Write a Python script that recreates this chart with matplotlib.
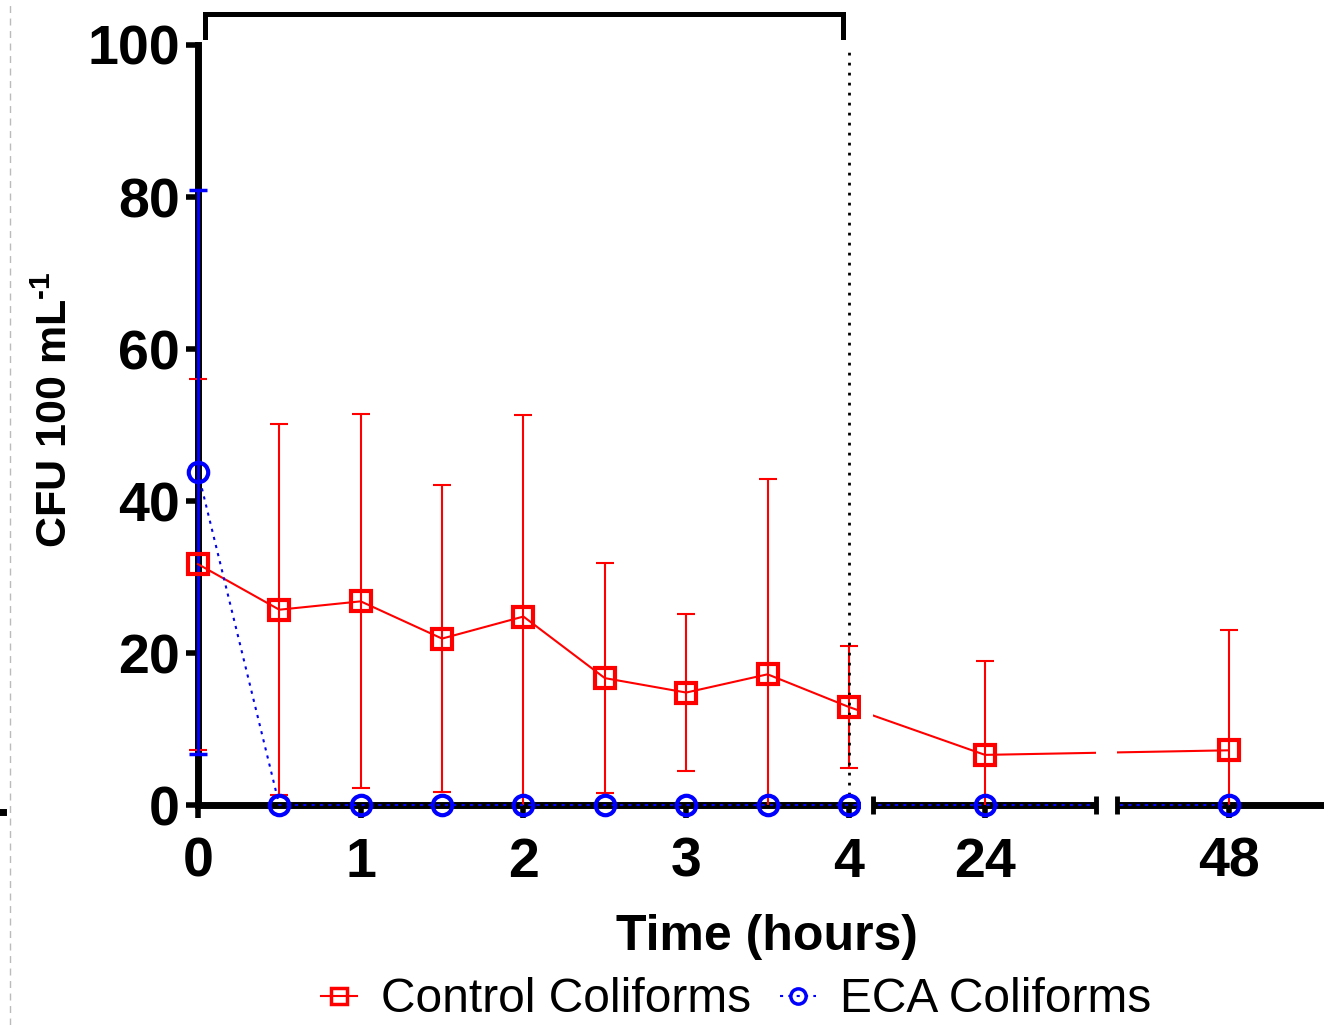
import numpy as np
import matplotlib
matplotlib.use("Agg")
import matplotlib.pyplot as plt
from matplotlib.lines import Line2D
from matplotlib.transforms import Bbox, TransformedBbox

plt.rcParams["font.family"] = ["Liberation Sans", "DejaVu Sans"]
plt.rcParams["mathtext.default"] = "regular"

# coliform counts, CFU 100 mL^-1 (mean ± SD)
time_h = [0, 0.5, 1, 1.5, 2, 2.5, 3, 3.5, 4, 24, 48]
control_mean = [31.7, 25.7, 26.8, 21.9, 24.8, 16.7, 14.8, 17.2, 12.9, 6.6, 7.2]
control_sd = [24.4, 24.4, 24.6, 20.2, 26.5, 15.1, 10.3, 25.7, 8.0, 12.4, 15.8]
eca_mean = [43.8, 0, 0, 0, 0, 0, 0, 0, 0, 0, 0]
eca_sd = [37.1, 0, 0, 0, 0, 0, 0, 0, 0, 0, 0]
xticks = [0, 1, 2, 3, 4, 24, 48]
yticks = [0, 20, 40, 60, 80, 100]

# broken x axis: 0-4 h at full scale, 24 h and 48 h squeezed in after it
knots_h = [-100, 0, 4, 24, 48, 1000]
knots_p = [-100, 0, 4, 4.836, 6.335, 6.335 + 952 / 16]
fwd = lambda x: np.interp(x, knots_h, knots_p)
inv = lambda p: np.interp(p, knots_p, knots_h)
SEG1_END, SEG2 = 4.074, (4.147, 5.518)
SEG3_START, XMAX = 5.647, 6.919

fig = plt.figure(figsize=(13.24, 10.25), dpi=100)
ax = fig.add_axes([0.1495, 0.2146, 1 - 0.1495, 0.7415])
ax.set_xscale("function", functions=(fwd, inv))
ax.set_xlim(0, inv(XMAX))
ax.set_ylim(0, 100)

for s in ("top", "right", "bottom"):
    ax.spines[s].set_visible(False)
ax.spines["left"].set_linewidth(5)
ax.spines["left"].set_bounds(0, 100)

# x axis drawn as three pieces with small end bars at the breaks
for a, b in [(0, SEG1_END), SEG2, (SEG3_START, XMAX + 0.2)]:
    ax.plot([inv(a), inv(b)], [0, 0], color="black", lw=5, solid_capstyle="butt",
            clip_on=False, zorder=2.5)
for p in (SEG2[0], SEG2[1], SEG3_START):
    ax.plot([inv(p), inv(p)], [-1.2, 1.2], color="black", lw=3.5, solid_capstyle="butt",
            clip_on=False, zorder=6)

clip = TransformedBbox(Bbox([[-0.05, 0], [1.0, 1.2]]), ax.transAxes)
eb = ax.errorbar(time_h, control_mean, yerr=control_sd, fmt="none", ecolor="red",
                 elinewidth=1.5, capsize=6.5, capthick=1.5, zorder=3)
for art in list(eb[1]) + list(eb[2]):
    art.set_clip_box(clip)
m = np.array(eca_sd) > 0
eb = ax.errorbar(np.array(time_h)[m], np.array(eca_mean)[m], yerr=np.array(eca_sd)[m],
                 fmt="none", ecolor="blue", elinewidth=2.2, capsize=6.5, capthick=2.5, zorder=3)
for art in list(eb[1]) + list(eb[2]):
    art.set_clip_box(clip)

ax.plot(time_h, control_mean, color="red", lw=1.5, marker="s", ms=14, mfc="none",
        mew=3, clip_on=False, zorder=4)
ax.plot(time_h, eca_mean, color="blue", lw=1.5, ls=(0, (1.5, 2.5)), marker="o", ms=14,
        mfc="none", mew=3, clip_on=False, zorder=4)

# blank out the data lines inside the axis breaks
for a, b in [(SEG1_END, SEG2[0]), (SEG2[1], SEG3_START)]:
    ax.axvspan(inv(a), inv(b), ymin=-0.03, ymax=1, color="white", lw=0, zorder=5, clip_on=False)

# end of the 4 h exposure
ax.vlines(4, 0, 100, color="black", lw=2, linestyles=[(0, (1, 2.6))], zorder=3.5)
ax.plot([0.043, 0.043, 3.963, 3.963], [101, 104.1, 104.1, 101], color="black", lw=3.6,
        solid_joinstyle="miter", clip_on=False)

ax.set_xticks(xticks, labels=[str(t) for t in xticks], fontsize=40, fontweight="bold")
ax.set_yticks(yticks, labels=[str(t) for t in yticks], fontsize=40, fontweight="bold")
ax.tick_params(axis="x", length=9, width=4, pad=14)
ax.tick_params(axis="y", length=9, width=4, pad=4)

ax.set_xlabel("Time (hours)", fontsize=36, fontweight="bold")
ax.xaxis.set_label_coords(0.505, -0.144)
ax.set_ylabel("CFU 100 mL$^{\u2010 1}$", fontsize=31, fontweight="bold")
ax.yaxis.set_label_coords(-0.108, 0.52)

handles = [Line2D([], [], color="red", lw=1.5, marker="s", ms=11, mfc="none", mew=2.5),
           Line2D([], [], color="blue", lw=1.5, ls=(0, (1.5, 2.5)), marker="o", ms=11,
                  mfc="none", mew=2.5)]
fig.legend(handles, ["Control Coliforms", "ECA Coliforms"], loc="center",
           bbox_to_anchor=(0.556, 0.0245), ncol=2, frameon=False, fontsize=34.5,
           handlelength=0.75, handletextpad=0.5, columnspacing=0.6, borderpad=0.2)

fig.add_artist(Line2D([0.0076, 0.0076], [0, 1], color="#bbbbbb", lw=1, ls=(0, (5, 4))))
fig.add_artist(Line2D([0, 3 / 1324], [0.2078, 0.2078], color="black", lw=5))

fig.savefig("out.png", dpi=100)
